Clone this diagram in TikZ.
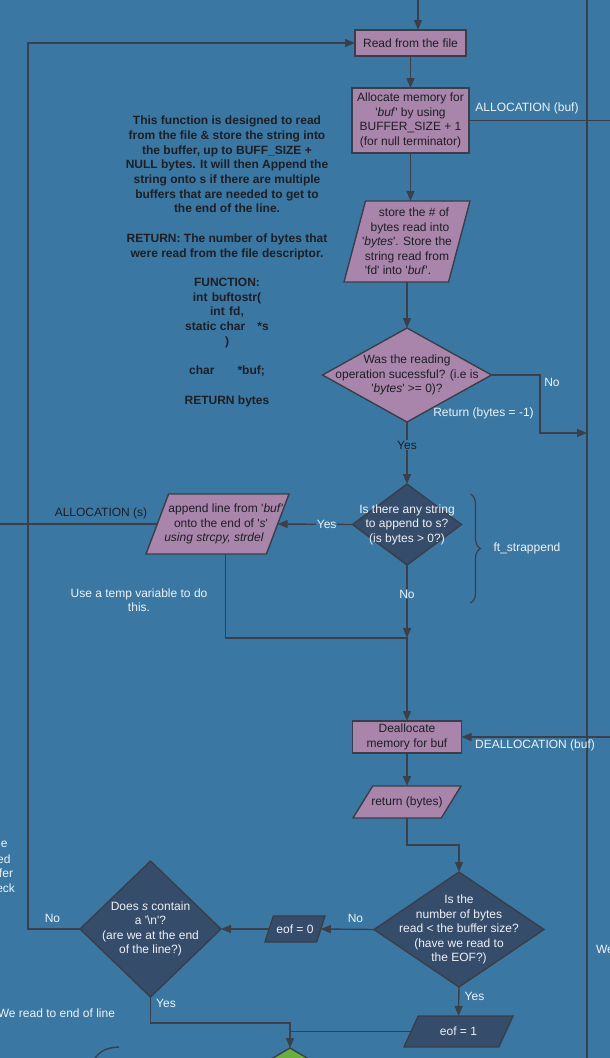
\documentclass[tikz,border=0pt]{standalone}
\usepackage{fontspec}
\setmainfont{Liberation Sans}
\usetikzlibrary{shapes.geometric,arrows.meta,decorations.pathreplacing}
\definecolor{bg}{HTML}{3A78A3}
\definecolor{mauve}{HTML}{A985AC}
\definecolor{navy}{HTML}{354C6A}
\definecolor{leaf}{HTML}{6AAF3D}
\definecolor{edge}{HTML}{3A3E48}
\definecolor{lineclr}{HTML}{3B3F49}
\definecolor{darktext}{HTML}{1E1E24}
\definecolor{lighttext}{HTML}{EEF2F6}
\newcommand{\tq}{\textquotesingle}
\begin{document}
\begin{tikzpicture}[x=1pt,y=-1pt,
  font=\fontsize{12}{14.5}\selectfont,
  every node/.style={inner sep=0pt,outer sep=0pt},
  link/.style={draw=lineclr,line width=1.4pt},
  arrow/.style={link,-{Triangle[length=10pt,width=8pt]}},
  procbox/.style={rectangle,draw=edge,fill=mauve,line width=1.4pt,align=center,text=darktext},
  io/.style 2 args={trapezium,trapezium stretches=true,trapezium left angle=#1,
    trapezium right angle=#2,draw=edge,line width=1.4pt,inner sep=1pt},
  pio/.style 2 args={io={#1}{#2},fill=mauve},
  nio/.style 2 args={io={#1}{#2},fill=navy},
  decision/.style={diamond,draw=edge,line width=1.4pt,inner sep=0.5pt},
  lbl/.style={text=lighttext},
  dlbl/.style={text=darktext},
  gap/.style={fill=bg,inner sep=1pt},
]
\useasboundingbox (0,0) rectangle (610,1058);
\clip (0,0) rectangle (610,1058);
\fill[bg] (0,0) rectangle (610,1058);

% free ends of connectors
\coordinate (topin) at (418,0);
\coordinate (railtop) at (587,0);
\coordinate (railbot) at (587,1058);
\coordinate (allocout) at (610,120.5);
\coordinate (nobend) at (540,433);
\coordinate (allocsin) at (0,524);
\coordinate (merge) at (407,638);
\coordinate (deallocin) at (610,737);
\coordinate (jog) at (459,845);
\coordinate (loopx) at (28,929);
\coordinate (yesjoin) at (290,1023);

% process boxes
\node[procbox,minimum width=111,minimum height=26] (read) at (410.5,43) {Read from the file};
\node[procbox,minimum width=117,minimum height=65] (alloc) at (410.5,120.5)
  {Allocate memory for\\\tq\textit{buf}\tq{} by using\\BUFFER\_SIZE + 1\\(for null terminator)};
\node[pio={75.5}{104.5},minimum width=126,minimum height=81,
  label={[align=center,text=darktext]center:{\hspace*{14pt}store the \# of\\\hspace*{6pt}bytes read into\\\tq\textit{bytes}\tq. Store the\hspace*{2pt}\\string read from\hspace*{8pt}\\\tq fd\tq{} into \tq\textit{buf}\tq.\hspace*{18pt}}}]
  (store) at (407,241.5) {};
\node[decision,fill=mauve,minimum width=169,minimum height=94,
  label={[align=center,text=darktext]center:{Was the reading\\operation sucessful? (i.e is\\\tq\textit{bytes}\tq{} >= 0)?}}]
  (d1) at (407,375) {};
\node[decision,fill=navy,minimum width=109,minimum height=81,
  label={[align=center,text=lighttext]center:{Is there any string\\to append to s?\\(is bytes > 0?)}}]
  (d2) at (407,524.5) {};
\node[pio={77}{103},minimum width=143,minimum height=60,
  label={[align=center,text=darktext]center:{\hspace*{17pt}append line from \tq\textit{buf}\tq\\\hspace*{7pt}onto the end of \tq\textit{s}\tq\\\textit{using strcpy, strdel}\hspace*{7pt}}}]
  (app) at (217.5,524) {};
\node[procbox,minimum width=109,minimum height=32] (dealloc) at (407,737) {Deallocate\\memory for buf};
\node[pio={74}{106},minimum width=108,minimum height=32,
  label={[text=darktext]center:return (bytes)}] (ret) at (407,802) {};
\node[decision,fill=navy,minimum width=170,minimum height=115,
  label={[align=center,text=lighttext]center:{Is the\\number of bytes\\read < the buffer size?\\(have we read to\\the EOF?)}}]
  (d3) at (459,929.5) {};
\node[nio={79}{101},minimum width=60,minimum height=26,
  label={[text=lighttext]center:eof = 0}] (eof0) at (295,929) {};
\node[decision,fill=navy,minimum width=141,minimum height=136,
  label={[align=center,text=lighttext]center:{Does \textit{s} contain\\a \tq\textbackslash n\tq?\\(are we at the end\\of the line?)}}]
  (d4) at (150.5,929) {};
\node[nio={80}{100},minimum width=109,minimum height=31,
  label={[text=lighttext]center:eof = 1}] (eof1) at (458.5,1031.5) {};
\node[decision,fill=leaf,minimum width=140,minimum height=82] (fin) at (290,1089) {};

% description of the routine
\node[font=\bfseries\fontsize{12}{14.7}\selectfont,text=darktext,align=center,anchor=north] (about) at (227,116)
  {This function is designed to read\\from the file \& store the string into\\the buffer, up to BUFF\_SIZE +\\NULL bytes. It will then Append the\\string onto s if there are multiple\\buffers that are needed to get to\\the end of the line.\\[14.7pt]RETURN: The number of bytes that\\were read from the file descriptor.\\[14.7pt]FUNCTION:\\int\hspace{4.3pt}buftostr(\\int\hspace{4.5pt}fd,\\static char\hspace{12.3pt}*s\\)\\[14.7pt]char\hspace{23pt}*buf;\\[14.7pt]RETURN bytes};

% connectors
\draw[link] (railtop) -- (railbot);
\draw[arrow] (topin) -- (topin |- read.north);
\draw[arrow] (read.south) -- (alloc.north);
\draw[link] (alloc.east) -- (allocout);
\draw[arrow] (alloc.south) -- (alloc.south |- store.north);
\draw[arrow] (store.south) -- (d1.north);
\draw[arrow] (d1.east) -| (nobend) -- (nobend -| railtop);
\draw[arrow] (d1.south) -- node[pos=0.37,gap,dlbl]{Yes} (d2.north);
\draw[arrow] (d2.west) -- node[pos=0.345,gap,lbl]{Yes} (app.right side);
\draw[link] (allocsin) -- (app.left side);
\draw[arrow] (d2.south) -- node[pos=0.4,gap,lbl]{No} (merge);
\draw[arrow] ([xshift=19pt]app.bottom side) |- (merge) -- (dealloc.north);
\draw[arrow] (deallocin) -- (dealloc.east);
\draw[arrow] (dealloc.south) -- (ret.north);
\draw[arrow] (ret.south) |- (jog) -- (d3.north);
\draw[arrow] (d3.west) -- (eof0.right side);
\draw[arrow] (eof0.left side) -- (d4.east);
\draw[arrow] (d4.west) -- (loopx) |- (read.west);
\draw[arrow] (d4.south) |- (yesjoin) -- (fin.north);
\draw[arrow] (d3.south) -- (eof1.north);
\draw[link] (eof1.left side) -- (eof1.left side -| fin.north);

% brace around the append step
\draw[link,line width=1.2pt,decorate,decoration={brace,amplitude=10pt}] (470.5,494) -- (470.5,603);

% curve of a shape further down
\draw[link] (94,1060) .. controls (99,1051) and (107,1047.5) .. (119,1047);

% free labels
\node[lbl] (lalloc) at (527,108) {ALLOCATION (buf)};
\node[lbl] (lno1) at (552,382) {No};
\node[lbl] (lret) at (483.5,413) {Return (bytes = -1)};
\node[dlbl] (lallocs) at (101,513) {ALLOCATION (s)};
\node[lbl,align=center] (ltemp) at (139,600) {Use a temp variable to do\\this.};
\node[lbl] (lstrapp) at (527,548) {ft\_strappend};
\node[lbl] (ldealloc) at (535,745.5) {DEALLOCATION (buf)};
\node[lbl] (lno2) at (355.5,918) {No};
\node[lbl] (lno3) at (52.5,918) {No};
\node[lbl] (lyes1) at (166,1003) {Yes};
\node[lbl] (lyes2) at (474.5,996) {Yes};
\node[lbl,anchor=east] (leol) at (115,1013) {We read to end of line};
\node[lbl,anchor=west] (lwe) at (596,949.5) {We};
\node[lbl,anchor=east] (lf1) at (7.5,844) {e};
\node[lbl,anchor=east] (lf2) at (10.5,859) {ed};
\node[lbl,anchor=east] (lf3) at (13,873) {fer};
\node[lbl,anchor=east] (lf4) at (15,888) {eck};
\end{tikzpicture}
\end{document}
